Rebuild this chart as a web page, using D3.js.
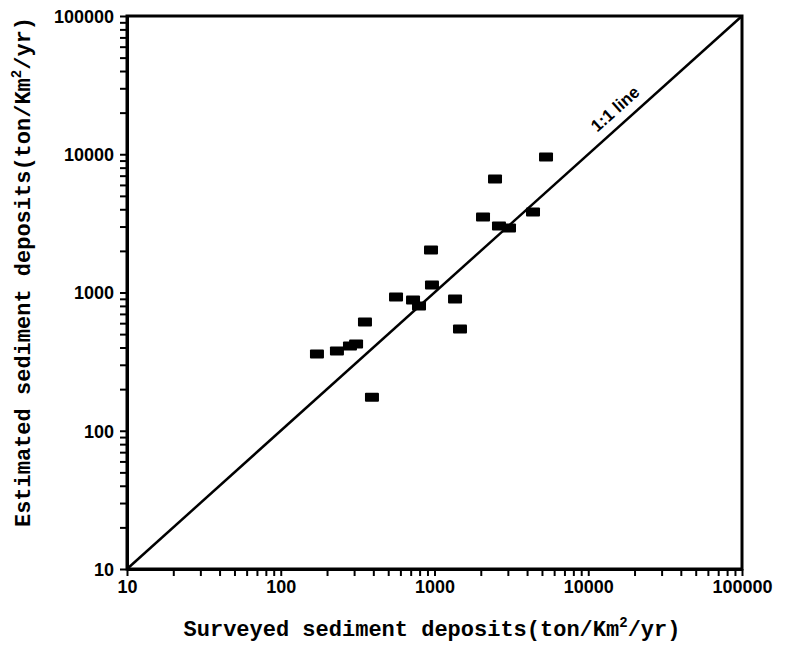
<!DOCTYPE html>
<html>
<head>
<meta charset="utf-8">
<script src="https://cdn.jsdelivr.net/npm/d3@7"></script>
<style>
  body { margin: 0; background: #fff; }
  svg { display: block; }
</style>
</head>
<body>
<svg id="chart"></svg>
<script>
const width = 786;
const height = 647;
const margin = {left: 127, right: 44, top: 16, bottom: 78};

// surveyed vs estimated sediment deposits (ton/km2/yr)
const surveyed = [172, 232, 282, 309, 353, 392, 562, 725, 793, 949, 963, 1360, 1465, 2068, 2475, 2627, 3052, 4372, 5313];
const estimated = [359, 378, 410, 424, 612, 175, 928, 882, 799, 2030, 1133, 897, 545, 3517, 6622, 3027, 2928, 3822, 9557];
const majorTicks = [10, 100, 1000, 10000, 100000];
const lineEnds = [10, 100000];

const svg = d3.select("#chart")
    .attr("width", width)
    .attr("height", height);

const xScale = d3.scaleLog()
    .domain([10, 100000])
    .range([margin.left, width - margin.right]);

const yScale = d3.scaleLog()
    .domain([10, 100000])
    .range([height - margin.bottom, margin.top]);

// all ticks 1..9 per decade, labels only on the powers of ten
const allTicks = [];
for (let p = 1; p < 5; p++) {
    for (let m = 1; m < 10; m++) allTicks.push(m * Math.pow(10, p));
}
allTicks.push(100000);
const fmt = d => majorTicks.includes(d) ? String(d) : "";

const xAxis = d3.axisBottom(xScale)
    .tickValues(allTicks)
    .tickFormat(fmt)
    .tickSizeInner(7)
    .tickSizeOuter(0)
    .tickPadding(4);

const yAxis = d3.axisLeft(yScale)
    .tickValues(allTicks)
    .tickFormat(fmt)
    .tickSizeInner(7)
    .tickSizeOuter(0)
    .tickPadding(6);

const gx = svg.append("g")
    .attr("transform", `translate(0, ${height - margin.bottom})`)
    .call(xAxis);

const gy = svg.append("g")
    .attr("transform", `translate(${margin.left}, 0)`)
    .call(yAxis);

[gx, gy].forEach(g => {
    g.select(".domain").attr("stroke", "#000").attr("stroke-width", 3);
    g.selectAll(".tick line").attr("stroke", "#000").attr("stroke-width", 2);
    g.selectAll(".tick text")
        .attr("fill", "#000")
        .style("font-family", "'Liberation Sans', Arial, sans-serif")
        .style("font-weight", "bold")
        .style("font-size", "18px");
});
gy.selectAll(".tick text").attr("dy", "0.36em");

// frame top and right
svg.append("rect")
    .attr("x", xScale(10))
    .attr("y", yScale(100000))
    .attr("width", xScale(100000) - xScale(10))
    .attr("height", yScale(10) - yScale(100000))
    .attr("fill", "none")
    .attr("stroke", "#000")
    .attr("stroke-width", 3);

// 1:1 line
svg.append("line")
    .attr("x1", xScale(lineEnds[0]))
    .attr("y1", yScale(lineEnds[0]))
    .attr("x2", xScale(lineEnds[1]))
    .attr("y2", yScale(lineEnds[1]))
    .attr("stroke", "#000")
    .attr("stroke-width", 2.5);

const angle = Math.atan2(yScale(10) - yScale(100000), xScale(100000) - xScale(10)) * 180 / Math.PI;
const lx = xScale(17500), ly = yScale(17500);
svg.append("text")
    .attr("transform", `translate(${lx}, ${ly}) rotate(${-angle}) translate(0, -10)`)
    .attr("text-anchor", "middle")
    .style("font-family", "'Liberation Sans', Arial, sans-serif")
    .style("font-weight", "bold")
    .style("font-size", "17px")
    .text("1:1 line");

// points
const points = surveyed.map((s, i) => ({x: s, y: estimated[i]}));
svg.selectAll(".pt")
    .data(points)
    .enter()
    .append("rect")
    .attr("class", "pt")
    .attr("x", d => xScale(d.x) - 7)
    .attr("y", d => yScale(d.y) - 4.5)
    .attr("width", 14)
    .attr("height", 9)
    .attr("rx", 1)
    .attr("fill", "#000");

// axis titles
const titleFont = "'Courier New', 'Liberation Mono', monospace";
const xt = svg.append("text")
    .attr("x", 432)
    .attr("y", 636)
    .attr("text-anchor", "middle")
    .style("font-family", titleFont)
    .style("font-weight", "bold")
    .style("font-size", "22px");
xt.append("tspan").text("Surveyed sediment deposits(ton/Km");
xt.append("tspan").attr("dy", -9).style("font-size", "14px").text("2");
xt.append("tspan").attr("dy", 9).text("/yr)");

const yt = svg.append("text")
    .attr("transform", `translate(30, 272) rotate(-90)`)
    .attr("text-anchor", "middle")
    .style("font-family", titleFont)
    .style("font-weight", "bold")
    .style("font-size", "22px");
yt.append("tspan").text("Estimated sediment deposits(ton/Km");
yt.append("tspan").attr("dy", -9).style("font-size", "14px").text("2");
yt.append("tspan").attr("dy", 9).text("/yr)");
</script>
</body>
</html>
